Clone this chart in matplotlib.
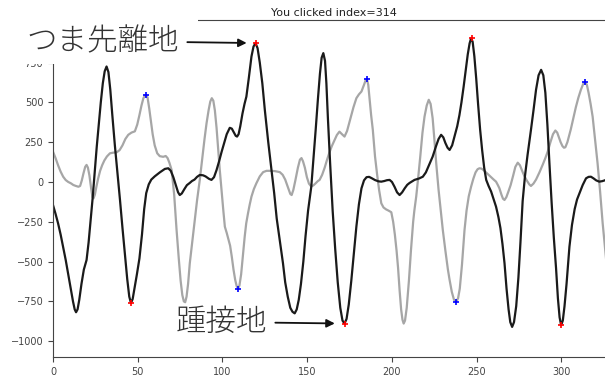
import matplotlib
matplotlib.use("Agg")
import matplotlib.pyplot as plt
from matplotlib.patches import Rectangle

# black trace (sample index, value)
black_idx = [0, 1.5, 3, 4.5, 6, 7.5, 9, 10.5, 11.8, 12.8, 13.6, 14.5, 15.5, 16.8, 18.2, 19.8, 21, 22.2,
             23.4, 24.6, 25.8, 27, 28.2, 29.4, 30.5, 31.6, 32.7, 33.8, 35, 36.5, 38, 39.5, 41, 42.5,
             43.8, 45, 46, 47, 48.2, 49.5, 51, 52.5, 53.8, 55, 56.5, 58, 60, 63, 66, 68, 69.5, 71,
             72.5, 73.8, 74.8, 76, 77.5, 79, 80.7, 82, 83.5, 85, 86.6, 88.5, 90, 92, 93.5, 95, 96.5,
             98, 99.5, 101, 102.5, 104.3, 105.5, 106.8, 107.8, 108.6, 109.5, 110.5, 111.8, 113,
             114.1, 115.5, 117.1, 118.3, 119.5, 120.7, 122, 123.5, 125, 127, 128.9, 130.5, 132, 134,
             135.7, 137, 138.5, 140, 141.3, 142.6, 143.8, 145, 146.3, 147.7, 149, 150.5, 152.4,
             153.8, 155, 156.3, 157.5, 158.5, 159.5, 160.5, 161.3, 162.2, 163.5, 165, 166.5, 168,
             169.5, 170.8, 172, 173.2, 174.5, 176, 177.5, 179, 180.5, 182, 183.5, 185, 186.5, 188,
             190, 192, 193.7, 195.5, 197, 198.6, 200, 201.5, 203, 204.5, 206, 207.5, 209, 210.4,
             213.3, 216, 218.2, 220, 222, 224, 226, 227.5, 229, 230.3, 231.5, 232.8, 234, 235.5, 237,
             238.5, 239.8, 241, 242.3, 243.5, 244.7, 245.8, 246.7, 247.6, 248.6, 249.7, 250.8, 252,
             253.2, 254.4, 255.6, 257, 258.5, 260, 261.4, 262.8, 264, 265.2, 266.4, 267.6, 268.8,
             269.8, 270.9, 272, 273.3, 274.6, 275.8, 277.1, 278.5, 280, 282, 283.5, 285, 286.5, 288,
             289.3, 290.5, 291.7, 292.9, 294.2, 295.5, 296.8, 297.9, 298.9, 299.8, 300.8, 301.8,
             303, 304.7, 306.2, 307.8, 309.2, 310.6, 312.5, 314.5, 316, 317.4, 319, 320.5, 322.3,
             324, 325.5, 327.5, 331]
black_val = [-145, -200, -260, -330, -410, -490, -580, -670, -750, -800, -818, -800, -740, -640, -550,
             -490, -380, -240, -100, 60, 220, 360, 500, 620, 695, 725, 690, 580, 420, 230, 60, -110,
             -290, -460, -610, -720, -760, -735, -660, -580, -480, -330, -170, -70, -15, 15, 35, 60,
             82, 86, 70, 30, -20, -65, -82, -72, -45, -20, -6, 6, 15, 32, 44, 42, 35, 20, 13, 30, 75,
             130, 190, 245, 300, 340, 335, 310, 290, 285, 300, 350, 430, 490, 536, 650, 788, 850,
             872, 840, 750, 620, 450, 250, 75, -70, -230, -380, -511, -630, -720, -790, -815, -825,
             -800, -740, -640, -500, -340, -180, -29, 160, 330, 520, 680, 780, 809, 760, 620, 400,
             120, -180, -420, -630, -790, -870, -889, -860, -770, -620, -450, -280, -140, -40, 10, 30,
             32, 24, 12, 4, 2, 6, 11, 13, 0, -30, -65, -82, -65, -40, -18, -6, 13, 22, 33, 60, 110,
             159, 225, 270, 296, 280, 245, 215, 201, 230, 290, 350, 420, 500, 600, 700, 800, 870,
             903, 880, 790, 650, 490, 330, 200, 90, 13, -25, -60, -110, -155, -220, -290, -390, -510,
             -670, -800, -880, -910, -880, -780, -600, -380, -120, 40, 170, 327, 450, 579, 670, 704,
             670, 560, 360, 118, -130, -350, -540, -730, -850, -899, -870, -780, -640, -407, -270,
             -170, -110, -71, -20, 23, 32, 33, 22, 10, 2, 5, 10, 20, 25]

# gray trace
gray_idx = [0, 1.5, 3, 4.5, 6, 7.5, 9, 10.5, 12, 13.5, 15, 16, 17, 18, 19, 19.8, 20.6, 21.5, 22.5,
            23.3, 23.9, 24.7, 25.6, 26.6, 27.8, 29, 30.3, 31.8, 33.6, 35.5, 37.5, 39.3, 41, 42.7,
            44.4, 46.3, 48.3, 49.7, 51, 52.2, 53.3, 54.4, 55, 55.8, 56.8, 57.8, 58.8, 60, 61.5, 63,
            65, 66.5, 67.6, 68.7, 70, 71.5, 72.9, 74.2, 75.3, 76.3, 77.2, 78, 78.8, 79.7, 80.7, 82,
            83.5, 85, 86.6, 88, 89.4, 90.6, 91.8, 92.8, 93.7, 94.6, 95.5, 96.5, 97.5, 98.4, 99.5,
            100.5, 101.4, 102.5, 103.5, 104.5, 105.5, 106.5, 107.5, 108.4, 109.2, 110, 111, 112,
            113.1, 114, 115, 116, 117.1, 118.5, 120, 122, 124, 126, 128, 131, 133.8, 135.5, 137,
            138.8, 140, 140.8, 141.8, 143, 144.5, 145.7, 146.6, 147.5, 148.6, 149.8, 151, 152.4,
            153.8, 155, 156.2, 157.3, 158.8, 160.3, 161.7, 163, 164.5, 166, 167.5, 169, 170.5, 172,
            173.5, 175.5, 177.3, 179, 180.5, 182, 183.5, 184.5, 185.2, 186, 186.8, 187.7, 188.7,
            190, 191.2, 192.4, 193.7, 195, 196.5, 198, 199.6, 200.7, 201.7, 202.7, 203.6, 204.5,
            205.4, 206.2, 206.9, 207.7, 208.7, 210, 211.2, 212.5, 213.2, 214.3, 215.5, 216.7, 218,
            219.2, 220.5, 221.7, 222.8, 224, 225, 226.1, 227.5, 229, 230, 231.5, 233, 234, 235.3,
            236.6, 237.9, 239, 240, 241.3, 242.8, 244, 245.3, 246.7, 248, 249.3, 250.5, 251.6,
            252.8, 254, 255.5, 257, 258.5, 260, 261.4, 262.5, 263.4, 264.6, 265.5, 266.4, 267.5,
            268.7, 270, 271.5, 272.8, 274.2, 275.5, 276.8, 278, 279.5, 281, 282, 283.5, 285, 287,
            289, 290.5, 291.9, 293.5, 295, 296.4, 297.5, 298.5, 299.5, 300.6, 301.5, 302.3, 303.5,
            304.5, 305.5, 307, 308.5, 310, 311.5, 312.8, 314, 315, 316, 317.2, 318.4, 319.8, 321.3,
            322.8, 324.3, 326, 327.5, 329, 331]
gray_val = [190, 150, 105, 65, 33, 12, 0, -8, -19, -25, -30, -25, 10, 55, 95, 107, 90, 40, -40, -95,
            -103, -80, -30, 20, 70, 105, 135, 160, 180, 184, 186, 200, 230, 270, 296, 310, 318, 360,
            420, 480, 525, 545, 546, 530, 460, 380, 300, 230, 180, 162, 158, 163, 150, 120, 75, -80,
            -300, -480, -620, -710, -750, -755, -720, -640, -511, -390, -250, -115, 13, 140, 270,
            369, 450, 505, 526, 510, 450, 340, 200, 75, -60, -180, -281, -320, -360, -400, -470,
            -550, -615, -655, -669, -650, -580, -470, -344, -260, -200, -145, -92, -45, -8, 35, 62,
            70, 70, 68, 62, 45, 15, -40, -75, -82, -50, 10, 90, 140, 150, 130, 90, 30, -10, -29, -20,
            -8, 5, 13, 45, 90, 140, 182, 225, 260, 295, 316, 300, 285, 320, 400, 470, 526, 550, 568,
            610, 640, 646, 610, 520, 420, 327, 160, 50, -50, -134, -160, -172, -180, -190, -250,
            -330, -430, -540, -680, -800, -865, -889, -870, -790, -620, -430, -250, -180, -92, 30,
            160, 310, 410, 480, 516, 490, 400, 270, 118, -50, -200, -302, -430, -550, -615, -690,
            -740, -753, -730, -670, -520, -302, -180, -90, -29, 20, 60, 80, 86, 84, 75, 60, 45, 30,
            15, 2, -20, -40, -80, -105, -113, -95, -60, -20, 40, 95, 121, 105, 70, 40, 10, -15, -25,
            -10, 15, 60, 110, 150, 191, 250, 300, 323, 310, 280, 250, 225, 215, 218, 250, 290, 330,
            400, 470, 530, 580, 615, 628, 610, 560, 490, 410, 270, 118, -60, -258, -450, -600, -700,
            -780]

# detected events
red_idx = [46, 120, 172, 247, 300]
red_val = [-760, 872, -889, 903, -899]
blue_idx = [55, 109, 185, 238, 314]
blue_val = [545, -669, 646, -753, 625]

title = "You clicked index=314"
toe_off = "つま先離地"
heel_strike = "踵接地"

plt.rcParams["axes.edgecolor"] = "#444444"
plt.rcParams["xtick.color"] = "#444444"
plt.rcParams["ytick.color"] = "#444444"

W, H = 605, 381
fig = plt.figure(figsize=(W / 100, H / 100), dpi=100)
# axes runs a little past the right edge, like the cropped screenshot
ax = fig.add_axes([53 / W, 24 / H, 561 / W, 337 / H])

ax.plot(gray_idx, gray_val, color="#a6a6a6", lw=1.6)
ax.plot(black_idx, black_val, color="#1a1a1a", lw=1.6)
ax.plot(red_idx, red_val, "+", color="red", ms=5, mew=1.2)
ax.plot(blue_idx, blue_val, "+", color="blue", ms=5, mew=1.2)

ax.set_xlim(0, 331)
ax.set_ylim(-1099, 1017)
ax.set_yticks([-1000, -750, -500, -250, 0, 250, 500, 750])
ax.tick_params(labelsize=7)
ax.set_title(title, fontsize=8, pad=3, color="#222222")

# white patch pasted over the top-left corner
cover = Rectangle((0, (H - 64) / H), 198 / W, 64 / H, transform=fig.transFigure,
                  facecolor="white", edgecolor="none", zorder=10)
ax.add_patch(cover)
cover.set_clip_on(False)

jp = ["Noto Sans CJK JP", "DejaVu Sans"]
arrow = dict(arrowstyle="-|>", color="#111111", lw=1.3, shrinkA=4, shrinkB=7, mutation_scale=12)
ax.annotate(toe_off, xy=(red_idx[1], red_val[1]), xytext=(179, H - 41), textcoords="figure pixels",
            ha="right", va="center", fontsize=22, family=jp, weight="light", color="#333333",
            arrowprops=arrow, annotation_clip=False, zorder=12)
ax.annotate(heel_strike, xy=(red_idx[2], red_val[2]), xytext=(267, H - 322), textcoords="figure pixels",
            ha="right", va="center", fontsize=22, family=jp, weight="light", color="#333333",
            arrowprops=arrow, annotation_clip=False, zorder=12)

fig.savefig("out.png", dpi=100)
